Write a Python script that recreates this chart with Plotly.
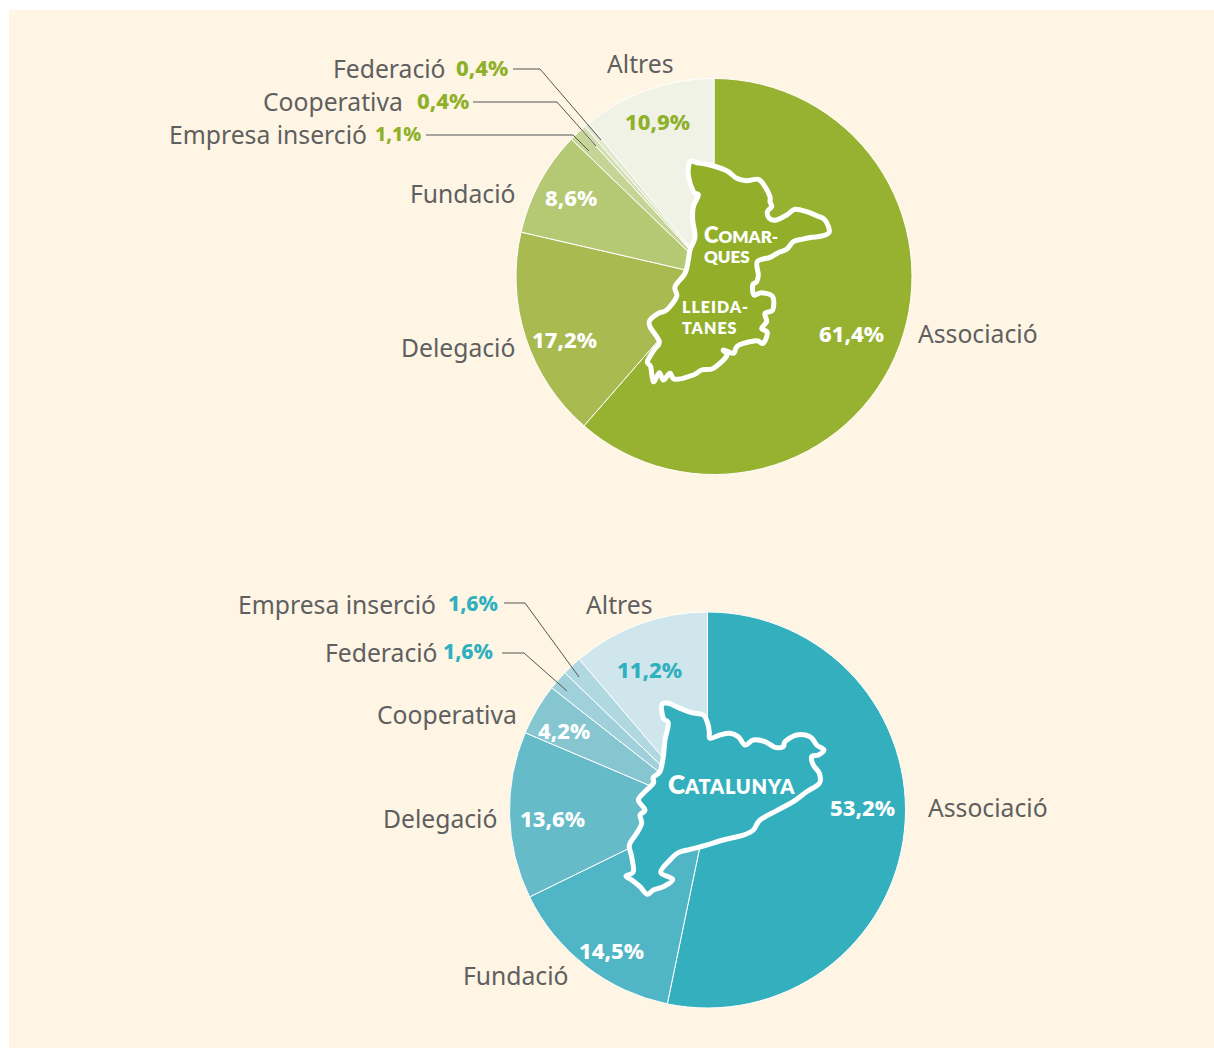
import plotly.graph_objects as go

W, H = 1214, 1048

# Data
CATS_TOP = ["Associació", "Delegació", "Fundació", "Empresa inserció", "Cooperativa", "Federació", "Altres"]
VALS_TOP = [61.4, 17.2, 8.6, 1.1, 0.4, 0.4, 10.9]
CATS_BOT = ["Associació", "Fundació", "Delegació", "Cooperativa", "Federació", "Empresa inserció", "Altres"]
VALS_BOT = [53.2, 14.5, 13.6, 4.2, 1.6, 1.6, 11.2]

# Styles
COL_TOP = ["#97b230", "#a8ba50", "#b5c873", "#c6d495", "#d4deb0", "#e1e7c9", "#f0f2e5"]
COL_BOT = ["#33afbd", "#50b5c4", "#66bbc9", "#85c6d1", "#a0d0da", "#b0d8e0", "#cfe6ec"]
GREY = "#5f5f5f"
ACC_TOP = "#8fb02a"
ACC_BOT = "#2fb0bf"
BG = "#fef5e4"
FONT = "Noto Sans"
SIZE = 24.7
PSIZE = 22

# Map outlines
MAP_TOP = [(180,35),(200,38),(240,45),(290,62),(320,85),(350,92),(385,88),(405,110),(420,140),(420,155),(425,170),(412,185),(418,205),(440,210),(470,195),(495,178),(530,185),(560,197),(585,210),(598,245),(575,258),(545,262),(515,268),(490,275),(470,298),(445,308),(420,322),(382,335),(385,375),(380,395),(368,405),(372,435),(395,428),(428,440),(428,480),(405,490),(410,515),(395,535),(412,548),(400,580),(380,572),(340,580),(320,590),(310,610),(280,600),(290,618),(250,655),(215,660),(190,675),(135,688),(120,670),(100,690),(88,668),(70,695),(62,650),(52,635),(72,600),(88,575),(60,530),(60,510),(85,490),(110,480),(140,440),(135,410),(165,370),(175,330),(180,300),(195,260),(188,210),(190,170),(205,135),(190,125),(175,75)]
MAP_BOT = [(155,45),(175,40),(210,55),(245,68),(280,75),(293,100),(298,125),(300,145),(330,135),(360,130),(385,140),(405,165),(430,150),(465,155),(495,172),(520,170),(525,155),(560,135),(600,140),(620,165),(642,180),(625,195),(605,200),(610,225),(628,250),(628,280),(590,305),(550,335),(500,362),(450,390),(430,420),(400,435),(340,450),(280,468),(240,478),(205,488),(180,510),(152,547),(188,568),(160,590),(130,600),(112,613),(90,590),(65,570),(48,558),(70,545),(65,500),(58,465),(80,430),(95,400),(90,375),(105,360),(85,330),(105,305),(130,280),(130,262),(150,245),(160,200),(165,150),(175,100),(160,85)]

LEADERS = [
    [(513,69),(540,69),(601,140)],
    [(473,102),(557,102),(596,146)],
    [(426,135),(573,135),(589,151)],
    [(504,603),(525,603),(579,677)],
    [(502,653),(524,653),(567,691)],
]

px = lambda x: x / W
py = lambda y: 1 - y / H
pct = lambda v: f"{v:.1f}".replace(".", ",")


def map_path(points, ox, oy):
    # closed smooth outline (Catmull-Rom turned into cubic Beziers)
    p = [(ox + a / 3, oy + b / 3) for a, b in points]
    n = len(p)
    d = f"M{px(p[0][0]):.5f},{py(p[0][1]):.5f}"
    for i in range(n):
        p0, p1, p2, p3 = p[i - 1], p[i], p[(i + 1) % n], p[(i + 2) % n]
        c1 = (p1[0] + (p2[0] - p0[0]) / 6, p1[1] + (p2[1] - p0[1]) / 6)
        c2 = (p2[0] - (p3[0] - p1[0]) / 6, p2[1] - (p3[1] - p1[1]) / 6)
        d += (f" C{px(c1[0]):.5f},{py(c1[1]):.5f} {px(c2[0]):.5f},{py(c2[1]):.5f}"
              f" {px(p2[0]):.5f},{py(p2[1]):.5f}")
    return d + " Z"


def pie(vals, cats, cols, cx, cy, r):
    return go.Pie(values=vals, labels=cats, sort=False, direction="clockwise", rotation=0,
                  marker=dict(colors=cols, line=dict(color="white", width=1)),
                  textinfo="none", hoverinfo="label+percent", showlegend=False,
                  domain=dict(x=[px(cx - r), px(cx + r)], y=[py(cy + r), py(cy - r)]))


fig = go.Figure([
    pie(VALS_TOP, CATS_TOP, COL_TOP, 714, 276.5, 198),
    pie(VALS_BOT, CATS_BOT, COL_BOT, 707.5, 810, 198),
])

shapes = [dict(type="rect", xref="paper", yref="paper", x0=px(9), x1=1, y0=0, y1=py(10),
               fillcolor=BG, line_width=0, layer="below"),
          dict(type="path", xref="paper", yref="paper", path=map_path(MAP_TOP, 630, 150),
               fillcolor="#93af2a", line=dict(color="white", width=5)),
          dict(type="path", xref="paper", yref="paper", path=map_path(MAP_BOT, 610, 690),
               fillcolor=COL_BOT[0], line=dict(color="white", width=5))]
for L in LEADERS:
    shapes.append(dict(type="path", xref="paper", yref="paper",
                       path="M" + " L".join(f"{px(x):.5f},{py(y):.5f}" for x, y in L),
                       line=dict(color="#555555", width=1)))

ann = []


def T(text, x, y, anchor="center", size=SIZE, color=GREY, family=FONT, weight=None, align="center"):
    f = dict(family=family, size=size, color=color)
    if weight:
        f["weight"] = weight
    ann.append(dict(text=text, x=px(x), y=py(y - 1), xref="paper", yref="paper", xanchor=anchor,
                    yanchor="middle", showarrow=False, align=align, font=f))


def named(name, v, acc, name_right, pct_right, y, psize=PSIZE):
    T(name, name_right + 2, y, "right")
    T(f"{pct(v)}%", pct_right + 2, y - 1.5, "right", size=psize, color=acc, weight=800)


def val(v, x, y, color="white"):
    T(f"{pct(v)}%", x, y, size=PSIZE, color=color, weight=800)


# Top
T("Altres", 640, 65)
named("Federació", VALS_TOP[5], ACC_TOP, 446, 508, 69)
named("Cooperativa", VALS_TOP[4], ACC_TOP, 403, 469, 103)
named("Empresa inserció", VALS_TOP[3], ACC_TOP, 367, 421, 136, 19.5)
T("Fundació", 518, 194, "right")
T("Delegació", 517, 348, "right")
T("Associació", 916, 334, "left")
val(VALS_TOP[6], 658, 122, ACC_TOP)
val(VALS_TOP[2], 571, 198)
val(VALS_TOP[1], 564, 340)
val(VALS_TOP[0], 851, 334)
# Bottom
T("Altres", 619, 605)
named("Empresa inserció", VALS_BOT[5], ACC_BOT, 436, 498, 605, 21)
named("Federació", VALS_BOT[4], ACC_BOT, 438, 493, 653, 21)
T("Cooperativa", 519, 715, "right")
T("Delegació", 499, 819, "right")
T("Fundació", 516, 976)
T("Associació", 926, 808, "left")
val(VALS_BOT[6], 649, 670, ACC_BOT)
val(VALS_BOT[3], 564, 731)
val(VALS_BOT[2], 552, 819)
val(VALS_BOT[1], 611, 951)
val(VALS_BOT[0], 863, 808)

# Map labels
MF = "Lato"
T('<span style="font-size:22px">C</span><span style="font-size:17px">OMAR-</span><br>'
  '<span style="font-size:17px">QUES</span>',
  702, 244.5, "left", size=15.4, color="white", family=MF, weight=800, align="left")
T('<span style="letter-spacing:1px">LLEIDA-</span><br><span style="letter-spacing:1px">TANES</span>',
  680, 318, "left", size=16, color="white", family=MF, weight=800, align="left")
T('C<span style="font-size:20px;letter-spacing:0.7px">ATALUNYA</span>', 731, 785, size=26,
  color="white", family=MF, weight=800)

fig.update_layout(width=W, height=H, margin=dict(l=0, r=0, t=0, b=0), paper_bgcolor="white",
                  shapes=shapes, annotations=ann, font=dict(family=FONT))
fig.write_html("out.html", config=dict(displayModeBar=False),
               post_script="document.body.style.margin='0';document.body.style.overflow='hidden';")
